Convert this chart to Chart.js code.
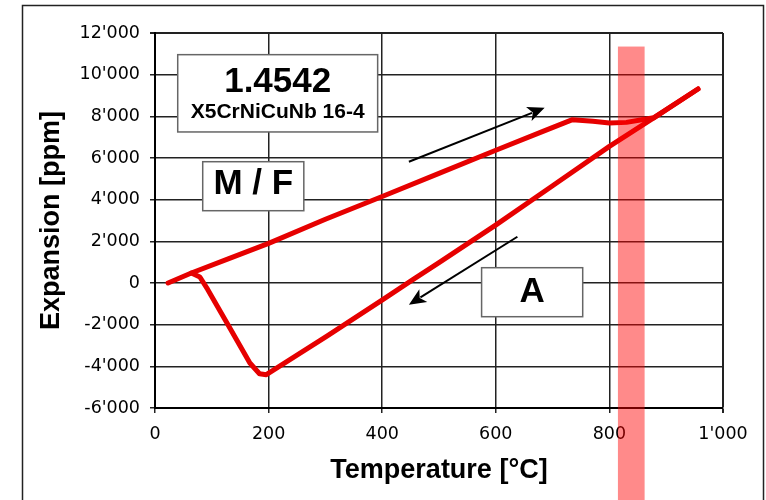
<!DOCTYPE html>
<html>
<head>
<meta charset="utf-8">
<script src="https://cdn.jsdelivr.net/npm/chart.js@4.4.1/dist/chart.umd.min.js"></script>
<style>
  html, body { margin: 0; padding: 0; background: #fff; }
  canvas { display: block; }
</style>
</head>
<body>
<canvas id="myChart" width="766" height="500"></canvas>
<script>
//Data_
// heating run (°C / ppm)
const heatTemp = [23, 64, 130, 200, 300, 400, 500, 600, 683, 735, 771, 800, 830, 865, 878, 956];
const heatExp  = [0, 480, 1170, 1900, 3060, 4150, 5260, 6370, 7280, 7840, 7760, 7680, 7710, 7870, 7930, 9312];
// cooling run
const coolTemp = [956, 878, 800, 700, 601, 500, 454, 401, 302, 250, 196, 184, 167, 130, 93, 79, 64];
const coolExp  = [9312, 7930, 6557, 4670, 2800, 980, 160, -800, -2563, -3460, -4400, -4354, -3840, -2080, -320, 288, 480];

// transformation band (°C) and its top (ppm)
const bandTemp = [815, 862];
const bandTop = 11350;

// arrows: [start, tip] as [°C, ppm]
const arrowHeat = [[447, 5820], [686, 8410]];
const arrowCool = [[638, 2220], [447, -1040]];

// label boxes: corners in [°C, ppm]
const boxSteel = { from: [40, 10960], to: [392, 7250], lines: ['1.4542', 'X5CrNiCuNb 16-4'] };
const boxMF = { from: [84, 5822], to: [262, 3470], lines: ['M / F'] };
const boxA = { from: [575, 734], to: [753, -1618], lines: ['A'] };

const canvas = document.getElementById('myChart');
let chart;

//Functions_
function fmtThousands(v) {
    const s = Math.abs(v).toString().replace(/\B(?=(\d{3})+(?!\d))/g, "'");
    return (v < 0 ? '-' : '') + s;
}

function toPoints(xs, ys) {
    return xs.map((x, i) => ({ x: x, y: ys[i] }));
}

function drawArrow(ctx, x0, y0, x1, y1) {
    const ang = Math.atan2(y1 - y0, x1 - x0);
    const len = 17, half = 7.5;
    ctx.save();
    ctx.strokeStyle = '#000';
    ctx.fillStyle = '#000';
    ctx.lineWidth = 2;
    ctx.beginPath();
    ctx.moveTo(x0, y0);
    ctx.lineTo(x1 - Math.cos(ang) * len * 0.8, y1 - Math.sin(ang) * len * 0.8);
    ctx.stroke();
    ctx.beginPath();
    ctx.moveTo(x1, y1);
    ctx.lineTo(x1 - Math.cos(ang) * len - Math.sin(ang) * half, y1 - Math.sin(ang) * len + Math.cos(ang) * half);
    ctx.lineTo(x1 - Math.cos(ang) * len * 0.75, y1 - Math.sin(ang) * len * 0.75);
    ctx.lineTo(x1 - Math.cos(ang) * len + Math.sin(ang) * half, y1 - Math.sin(ang) * len - Math.cos(ang) * half);
    ctx.closePath();
    ctx.fill();
    ctx.restore();
}

function drawBox(ctx, sx, sy, box, fonts, offsets) {
    const x0 = sx.getPixelForValue(box.from[0]);
    const y0 = sy.getPixelForValue(box.from[1]);
    const x1 = sx.getPixelForValue(box.to[0]);
    const y1 = sy.getPixelForValue(box.to[1]);
    ctx.save();
    ctx.fillStyle = '#fff';
    ctx.fillRect(x0, y0, x1 - x0, y1 - y0);
    ctx.strokeStyle = '#666';
    ctx.lineWidth = 1.5;
    ctx.strokeRect(x0, y0, x1 - x0, y1 - y0);
    ctx.fillStyle = '#000';
    ctx.textAlign = 'center';
    ctx.textBaseline = 'alphabetic';
    box.lines.forEach((t, i) => {
        ctx.font = fonts[i];
        ctx.fillText(t, (x0 + x1) / 2, y0 + offsets[i]);
    });
    ctx.restore();
}

const extras = {
    id: 'extras',
    beforeDraw(c) {
        const ctx = c.ctx;
        ctx.save();
        ctx.fillStyle = '#fff';
        ctx.fillRect(0, 0, c.width, c.height);
        ctx.strokeStyle = '#222';
        ctx.lineWidth = 1.5;
        ctx.strokeRect(22.5, 5.5, 741, 520);
        ctx.restore();
    },
    afterDatasetsDraw(c) {
        const ctx = c.ctx;
        const sx = c.scales.x, sy = c.scales.y;
        [arrowHeat, arrowCool].forEach(a => {
            drawArrow(ctx,
                sx.getPixelForValue(a[0][0]), sy.getPixelForValue(a[0][1]),
                sx.getPixelForValue(a[1][0]), sy.getPixelForValue(a[1][1]));
        });
        const big = 'bold 35px "Liberation Sans", Arial, sans-serif';
        drawBox(ctx, sx, sy, boxSteel, [big, 'bold 21px "Liberation Sans", Arial, sans-serif'], [37, 63]);
        drawBox(ctx, sx, sy, boxMF, [big], [32.5]);
        drawBox(ctx, sx, sy, boxA, [big], [34]);
    },
    afterDraw(c) {
        const ctx = c.ctx;
        const sx = c.scales.x, sy = c.scales.y;
        const x0 = sx.getPixelForValue(bandTemp[0]);
        const x1 = sx.getPixelForValue(bandTemp[1]);
        const yt = sy.getPixelForValue(bandTop);
        ctx.save();
        ctx.fillStyle = 'rgba(255,0,0,0.46)';
        ctx.fillRect(x0, yt, x1 - x0, c.height - yt);
        ctx.restore();
    }
};

function graphs() {
    const lineStyle = {
        showLine: true,
        borderColor: '#e60000',
        borderWidth: 5,
        pointRadius: 0,
        tension: 0,
        borderJoinStyle: 'round',
        borderCapStyle: 'round',
        fill: false
    };
    const tickFont = { family: '"DejaVu Sans", sans-serif', size: 17.5 };
    const titleFont = { family: '"Liberation Sans", Arial, sans-serif', size: 27, weight: 'bold' };

    const config = {
        type: 'scatter',
        data: {
            datasets: [
                Object.assign({ label: 'heating', data: toPoints(heatTemp, heatExp) }, lineStyle),
                Object.assign({ label: 'cooling', data: toPoints(coolTemp, coolExp) }, lineStyle)
            ]
        },
        options: {
            responsive: false,
            animation: false,
            layout: { padding: { left: 0, top: 33, right: 43, bottom: 0 } },
            plugins: { legend: { display: false }, tooltip: { enabled: false } },
            scales: {
                x: {
                    type: 'linear', min: 0, max: 1000,
                    ticks: { stepSize: 200, color: '#000', font: tickFont, padding: 11, callback: fmtThousands },
                    grid: { color: '#222', lineWidth: ctx => (ctx.tick && ctx.tick.value === 1000 ? 2 : 1.5), tickLength: 5 },
                    border: { color: '#000', width: 2 },
                    title: { display: true, text: 'Temperature [°C]', color: '#000', font: titleFont, padding: { top: 0, bottom: 13 } },
                    afterFit(s) { s.height = 92; }
                },
                y: {
                    type: 'linear', min: -6000, max: 12000,
                    ticks: { stepSize: 2000, color: '#000', font: tickFont, padding: 10, callback: fmtThousands },
                    grid: { color: '#222', lineWidth: ctx => (ctx.tick && ctx.tick.value === 12000 ? 2 : 1.5), tickLength: 5 },
                    border: { color: '#000', width: 2 },
                    title: { display: true, text: 'Expansion [ppm]', color: '#000', font: titleFont, padding: { top: 35, bottom: 0 } },
                    afterFit(s) { s.width = 155; }
                }
            }
        },
        plugins: [extras]
    };

    if (chart) chart.destroy();
    chart = new Chart(canvas, config);
}

//FunctionCall_
graphs();
</script>
</body>
</html>
